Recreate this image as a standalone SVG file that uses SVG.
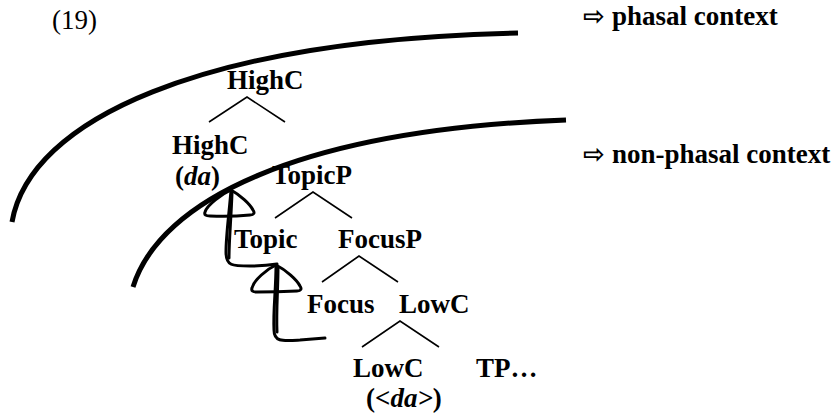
<svg xmlns="http://www.w3.org/2000/svg" width="831" height="415" viewBox="0 0 831 415">
<style>
.lbl{font-family:"Liberation Serif","Times New Roman",serif;font-weight:bold;font-size:27px;fill:#000}
.num{font-family:"Liberation Serif","Times New Roman",serif;font-size:27px;fill:#000}
.it{font-style:italic}
.arr{font-family:"DejaVu Sans",sans-serif;font-weight:bold;font-size:26px}
.arc{fill:none;stroke:#000;stroke-width:5;stroke-linecap:butt}
.br{fill:none;stroke:#000;stroke-width:1.6}
.mv{fill:none;stroke:#000;stroke-width:3;stroke-linecap:round;stroke-linejoin:round}
</style>
<rect width="831" height="415" fill="#fff"/>
<text class="num" x="52" y="29">(19)</text>
<g id="contexts">
<path class="arc" d="M12,222 C30,120 200,40 518,33"/>
<path class="arc" d="M133,287 C160,200 300,130 566,120"/>
<text id="phasal" class="lbl" x="583" y="25"><tspan class="arr">⇨</tspan><tspan x="612">phasal context</tspan></text>
<text id="nonphasal" class="lbl" x="583" y="163"><tspan class="arr">⇨</tspan><tspan x="612">non-phasal context</tspan></text>
</g>
<g id="connectors">
<path class="br" d="M209,122 L247,97 L285,122"/>
<path class="br" d="M275,218 L313,192 L352,218"/>
<path class="br" d="M322,282 L359,256 L398,282"/>
<path class="br" d="M362,347 L400,321 L439,347"/>
<g id="movement">
<path class="mv" d="M231,190 C229,215 226,235 226,252 C226,266 232,266 250,266 Q265,266 277,264"/>
<path class="mv" d="M232,193 C231,220 229,240 229,258" stroke-width="2"/>
<path class="mv" d="M231,190 C222,194 207,205 205,212 C204,215 206,216 210,216 Q230,217 250,215 C254,215 255,213 253,210 C250,204 240,195 231,190 Z"/>
<path class="mv" d="M276,265 C276,290 273,310 274,330 C274,342 282,341 300,340 L325,338"/>
<path class="mv" d="M278,267 C278,290 276,310 277,332" stroke-width="2"/>
<path class="mv" d="M276,265 C267,269 254,280 252,288 C251,291 253,292 257,292 Q277,292 297,291 C301,291 302,289 300,286 C297,280 286,270 276,265 Z"/>
</g>
</g>
<g id="n-highc-top"><text class="lbl" x="227" y="89">HighC</text></g>
<g id="n-highc"><text class="lbl" x="172" y="154">HighC</text><text class="lbl" x="175" y="185">(<tspan class="it">da</tspan>)</text></g>
<g id="n-topicp"><text class="lbl" x="272" y="184">TopicP</text></g>
<g id="n-topic"><text class="lbl" x="234" y="248">Topic</text></g>
<g id="n-focusp"><text class="lbl" x="338" y="248">FocusP</text></g>
<g id="n-focus"><text class="lbl" x="307" y="313">Focus</text></g>
<g id="n-lowc"><text class="lbl" x="399" y="313">LowC</text></g>
<g id="n-lowc2"><text class="lbl" x="353" y="377">LowC</text><text class="lbl" x="366" y="407">(<tspan class="it">&lt;da&gt;</tspan>)</text></g>
<g id="n-tp"><text class="lbl" x="476" y="377">TP…</text></g>
</svg>
